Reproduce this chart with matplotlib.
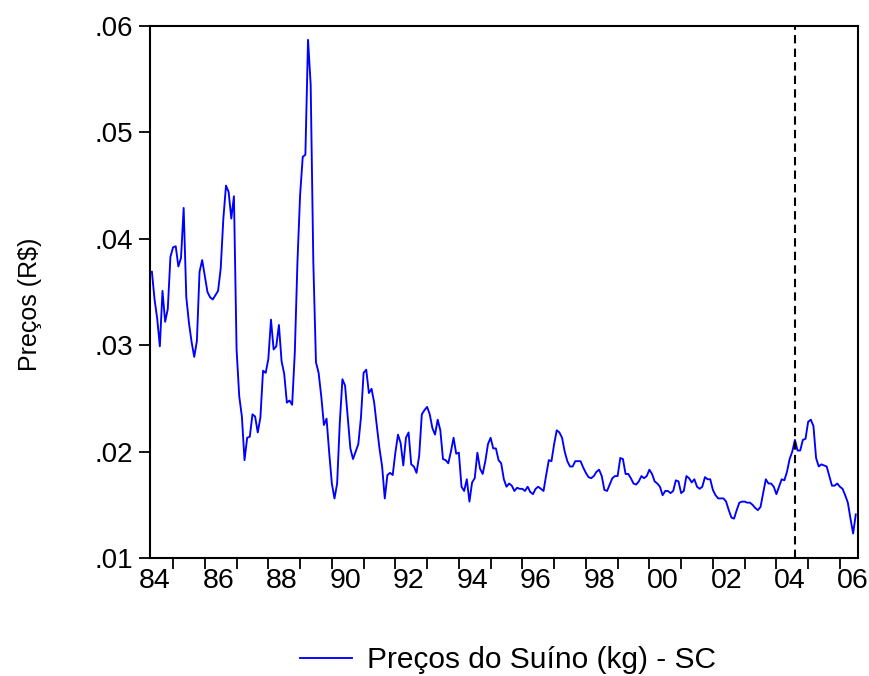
import matplotlib.pyplot as plt
import numpy as np

plt.rcParams['font.family'] = ['Liberation Sans', 'DejaVu Sans']

# monthly pork prices, starting May 1984
start_year = 1984 + 4 / 12.0
precos = [
    0.0369, 0.0343, 0.0325, 0.0299, 0.0351, 0.0322, 0.0334, 0.0383, 0.0392, 0.0393,
    0.0374, 0.0382, 0.0429, 0.0345, 0.0321, 0.0303, 0.0289, 0.0304, 0.0369, 0.0380,
    0.0365, 0.0350, 0.0345, 0.0343, 0.0347, 0.0351, 0.0372, 0.0419, 0.0450, 0.0444,
    0.0419, 0.0440, 0.0296, 0.0252, 0.0233, 0.0192, 0.0213, 0.0214, 0.0235, 0.0233,
    0.0218, 0.0232, 0.0276, 0.0274, 0.0287,
    0.0324, 0.0296, 0.0299, 0.0319, 0.0285, 0.0273, 0.0246, 0.0248, 0.0244, 0.0293,
    0.0378, 0.0441, 0.0477, 0.0479, 0.0587, 0.0545, 0.0378, 0.0284, 0.0274, 0.0252,
    0.0225, 0.0231, 0.0199, 0.0170, 0.0156, 0.0170, 0.0227, 0.0268, 0.0262, 0.0233,
    0.0203, 0.0193, 0.0200, 0.0207, 0.0232, 0.0274, 0.0277, 0.0255, 0.0259, 0.0246,
    0.0224, 0.0203, 0.0186, 0.0156, 0.0178, 0.0180,
    0.0178, 0.0199, 0.0216, 0.0208, 0.0187, 0.0213, 0.0218, 0.0188, 0.0186, 0.0180,
    0.0196, 0.0235, 0.0239, 0.0242, 0.0235, 0.0222, 0.0216, 0.0230, 0.0220, 0.0193,
    0.0192, 0.0189, 0.0200, 0.0213, 0.0198, 0.0199, 0.0167, 0.0163, 0.0174, 0.0153,
    0.0171, 0.0175, 0.0199, 0.0184, 0.0179, 0.0191, 0.0207, 0.0213, 0.0203, 0.0203,
    0.0192, 0.0189, 0.0174, 0.0167, 0.0170, 0.0168, 0.0163,
    0.0166, 0.0165, 0.0165, 0.0163, 0.0167, 0.0162, 0.0160, 0.0165, 0.0167, 0.0165,
    0.0163, 0.0178, 0.0192, 0.0191, 0.0207, 0.0220, 0.0218, 0.0213, 0.0200, 0.0191,
    0.0186, 0.0186, 0.0191, 0.0191, 0.0191, 0.0185, 0.0180, 0.0176, 0.0175, 0.0177,
    0.0181, 0.0183, 0.0177, 0.0164, 0.0163, 0.0169, 0.0175, 0.0177, 0.0177, 0.0194,
    0.0193, 0.0179, 0.0179, 0.0175, 0.0170,
    0.0169, 0.0172, 0.0177, 0.0175, 0.0177, 0.0183, 0.0179, 0.0172, 0.0170, 0.0167,
    0.0159, 0.0163, 0.0163, 0.0161, 0.0163, 0.0173, 0.0172, 0.0161, 0.0163, 0.0177,
    0.0175, 0.0171, 0.0174, 0.0167, 0.0165, 0.0167, 0.0176, 0.0174, 0.0174, 0.0164,
    0.0159, 0.0156, 0.0156, 0.0156, 0.0153, 0.0145, 0.0138, 0.0137, 0.0145, 0.0152,
    0.0153, 0.0153, 0.0152, 0.0152, 0.0150,
    0.0147, 0.0145, 0.0148, 0.0161, 0.0174, 0.0170, 0.0170, 0.0167, 0.0160, 0.0167,
    0.0174, 0.0173, 0.0181, 0.0193, 0.0200, 0.0211, 0.0201, 0.0201, 0.0211, 0.0212,
    0.0228, 0.0230, 0.0224, 0.0194, 0.0186, 0.0188, 0.0187, 0.0186, 0.0177, 0.0168,
    0.0168, 0.0170, 0.0167, 0.0165, 0.0159, 0.0152, 0.0137, 0.0123, 0.0141,
]
marker_year = 2004 + 7 / 12.0
year_ticks = list(range(1985, 2007))
year_labels = ['84', '86', '88', '90', '92', '94', '96', '98', '00', '02', '04', '06']
y_ticks = [0.01, 0.02, 0.03, 0.04, 0.05, 0.06]
y_labels = ['.01', '.02', '.03', '.04', '.05', '.06']

t = start_year + np.arange(len(precos)) / 12.0

fig = plt.figure(figsize=(8.69, 6.76), dpi=100)
ax = fig.add_axes([150 / 869, 1 - 558 / 676, 708 / 869, 532 / 676])

ax.plot(t, precos, color='#0000ff', lw=1.35, label='Preços do Suíno (kg) - SC')
ax.axvline(marker_year, color='black', lw=1.5, ls=(0, (4, 2.5)))

ax.set_xlim(t[0] - 0.06, t[-1] + 0.07)
ax.set_ylim(0.01, 0.06)

# year ticks unlabeled, labels centred in the middle of even years
ax.set_xticks(year_ticks)
ax.set_xticklabels([''] * len(year_ticks))
label_pos = [1984.42 + 2 * i for i in range(len(year_labels))]
ax.set_xticks(label_pos, minor=True)
ax.set_xticklabels(year_labels, minor=True, fontsize=20.5)
ax.tick_params(axis='x', which='major', length=8, width=1.3, direction='out')
ax.tick_params(axis='x', which='minor', length=0, pad=7)

ax.set_yticks(y_ticks)
ax.set_yticklabels(y_labels, fontsize=20)
ax.tick_params(axis='y', length=8, width=1.3, direction='out', pad=4)

for s in ax.spines.values():
    s.set_linewidth(1.5)

ax.set_ylabel('Preços (R$)', fontsize=18)
ax.yaxis.set_label_coords(-0.152, 0.477)

ax.legend(loc='center', bbox_to_anchor=(0.506, -0.192), frameon=False,
          fontsize=21.5, handlelength=1.75, handletextpad=0.5)

fig.savefig('out.png', dpi=100)
